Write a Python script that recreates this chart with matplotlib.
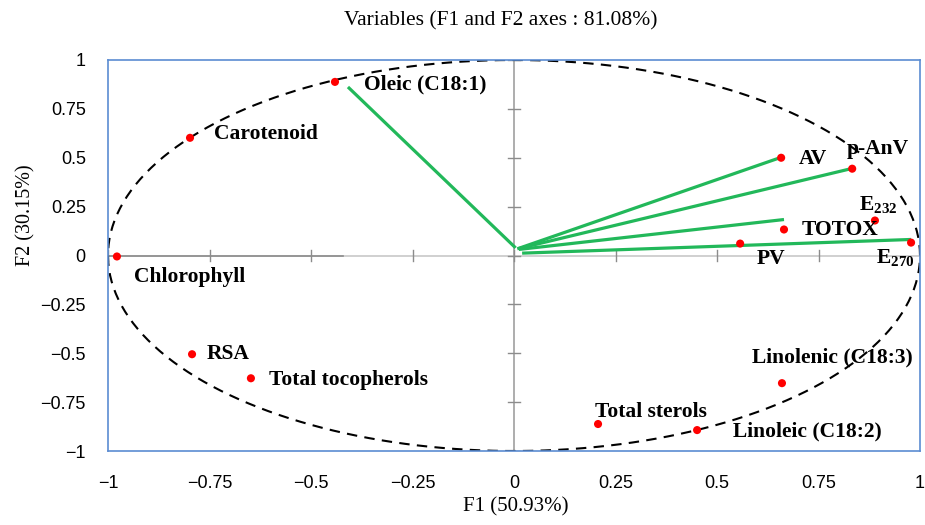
import numpy as np
import matplotlib.pyplot as plt

plt.rcParams['mathtext.fontset'] = 'custom'
plt.rcParams['mathtext.bf'] = 'Liberation Serif:bold'
plt.rcParams['mathtext.rm'] = 'Liberation Serif'

# variable coordinates (correlations with F1 / F2)
names = ['Oleic (C18:1)', 'Carotenoid', 'Chlorophyll', 'RSA', 'Total tocopherols',
         'Total sterols', 'Linoleic (C18:2)', 'Linolenic (C18:3)', 'AV', 'p-AnV',
         r'E$_\mathbf{232}$', 'TOTOX', 'PV', r'E$_\mathbf{270}$']
f1 = [-0.441, -0.798, -0.978, -0.793, -0.648, 0.207, 0.451, 0.660, 0.658, 0.833,
      0.889, 0.665, 0.557, 0.978]
f2 = [0.888, 0.602, -0.005, -0.505, -0.628, -0.862, -0.893, -0.653, 0.500, 0.444,
      0.179, 0.133, 0.061, 0.066]
# label offsets in pixels
lab_dx = [29, 24, 17, 15, 18, -3, 36, -30, 18, -5, -16, 18, 17, -35]
lab_dy = [-3, 4, -21, 0, -2, 12, -1, 26, -1, 20, 15, -1, -15, -16]

# green vectors
vec_x0 = [0.004, 0.008, 0.012, 0.012, 0.020]
vec_y0 = [0.039, 0.034, 0.036, 0.031, 0.012]
vec_x1 = [-0.409, 0.655, 0.830, 0.665, 0.978]
vec_y1 = [0.862, 0.500, 0.444, 0.184, 0.082]

ticks = [-1, -0.75, -0.5, -0.25, 0, 0.25, 0.5, 0.75, 1]
tick_labels = ['\u22121', '\u22120.75', '\u22120.5', '\u22120.25', '0', '0.25', '0.5', '0.75', '1']

fig = plt.figure(figsize=(9.25, 5.25), dpi=100)
ax = fig.add_axes([108 / 925, 1 - 451 / 525, 812 / 925, 391 / 525])
ax.set_xlim(-1, 1)
ax.set_ylim(-1, 1)

# axis lines through origin
ax.axhline(0, color='#c8c8c8', lw=1.2, zorder=1)
ax.plot([-1, -0.42], [0, 0], color='#8c8c8c', lw=1.2, zorder=1)
ax.axvline(0, color='#a0a0a0', lw=1.2, zorder=1)
for t in ticks:
    ax.plot([t, t], [-0.03, 0.03], color='#8c8c8c', lw=1, zorder=1)
    ax.plot([-0.015, 0.015], [t, t], color='#8c8c8c', lw=1, zorder=1)

# correlation circle
th = np.linspace(0, 2 * np.pi, 400)
ax.plot(np.cos(th), np.sin(th), color='black', lw=1.5, ls=(0, (5, 3.5)), zorder=2)

for i in range(len(vec_x0)):
    ax.plot([vec_x0[i], vec_x1[i]], [vec_y0[i], vec_y1[i]], color='#22B85A', lw=2.3,
            solid_capstyle='butt', zorder=3)

ax.scatter(f1, f2, s=34, color='#FF0000', edgecolors='none', zorder=4)

for i, n in enumerate(names):
    ax.annotate(n, (f1[i], f2[i]), xytext=(lab_dx[i], lab_dy[i]), textcoords='offset pixels',
                ha='left', va='center', fontsize=15.5, fontweight='bold',
                family='Liberation Serif', zorder=5)

ax.set_xticks(ticks)
ax.set_xticklabels(tick_labels, family='Liberation Sans', fontsize=13)
ax.set_yticks(ticks)
ax.set_yticklabels(tick_labels, family='Liberation Sans', fontsize=13)
ax.tick_params(axis='both', length=0)
ax.tick_params(axis='x', pad=17)
ax.tick_params(axis='y', pad=16)
for s in ax.spines.values():
    s.set_color('#5B8CD2')
    s.set_linewidth(1.2)

fig.text(501 / 925, 1 - 21 / 525, 'Variables (F1 and F2 axes : 81.08%)', family='Liberation Serif',
         fontsize=15.5, ha='center', va='center')
fig.text(516 / 925, 1 - 507 / 525, 'F1 (50.93%)', family='Liberation Serif', fontsize=15,
         ha='center', va='center')
fig.text(26 / 925, 1 - 215 / 525, 'F2 (30.15%)', family='Liberation Serif', fontsize=14.5,
         ha='center', va='center', rotation=90)

fig.savefig('out.png', dpi=100)
